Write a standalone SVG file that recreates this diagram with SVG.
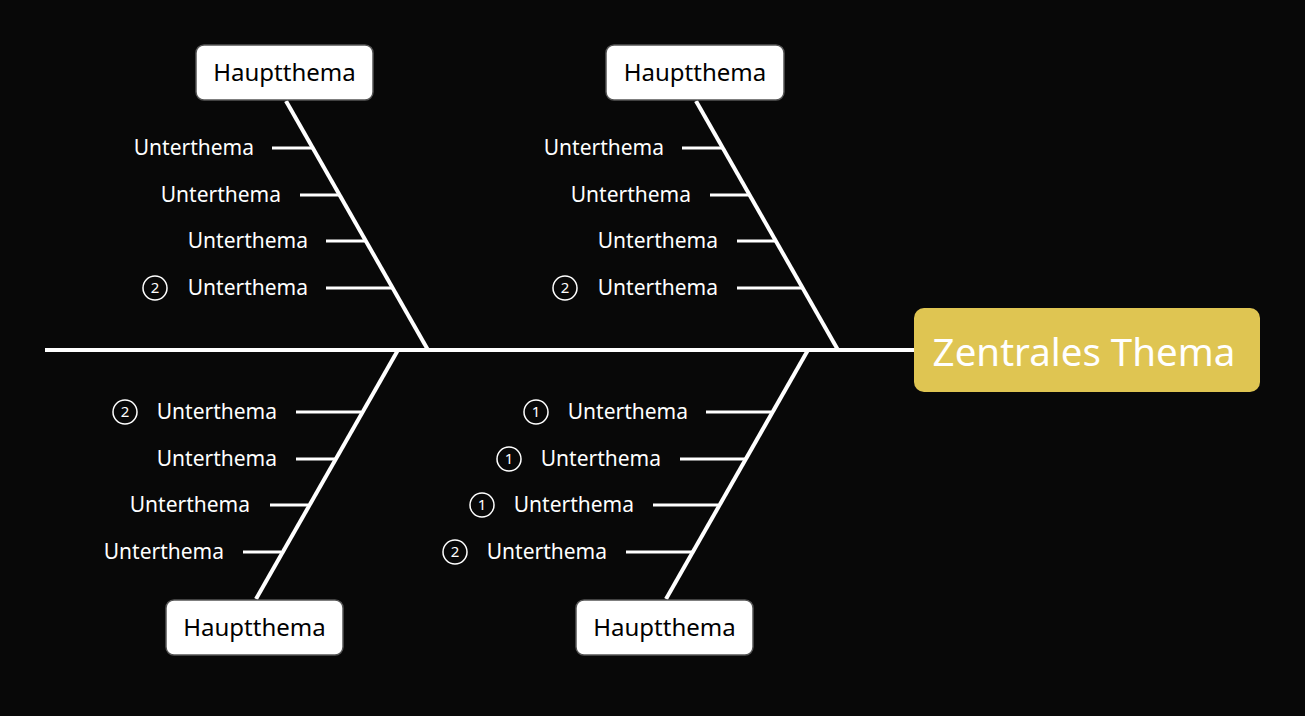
<svg xmlns="http://www.w3.org/2000/svg" width="1305" height="716" viewBox="0 0 1305 716">
<style>
.bone{stroke:#fff;stroke-width:4;fill:none;stroke-linecap:butt}
.sub{stroke:#fff;stroke-width:3;fill:none}
.main rect{fill:#fff;stroke:#555;stroke-width:1.5}
.main text{font-family:"Noto Sans","Open Sans",sans-serif;font-size:24px;fill:#000;text-anchor:middle}
.st{font-family:"Noto Sans","Open Sans",sans-serif;font-size:21px;fill:#fff;text-anchor:end}
.num circle{fill:none;stroke:#fff;stroke-width:1.5}
.num text{font-family:"Noto Sans",sans-serif;font-size:15px;fill:#fff;text-anchor:middle}
</style>
<rect width="1305" height="716" fill="#080808"/>
<g id="connectors">
<line class="bone" x1="45" y1="350" x2="914" y2="350"/>
<line class="bone" x1="286" y1="101" x2="428" y2="350"/>
<line class="bone" x1="696" y1="101" x2="838" y2="350"/>
<line class="bone" x1="398" y1="350" x2="256" y2="599"/>
<line class="bone" x1="808" y1="350" x2="666" y2="599"/>
<line class="sub" x1="272" y1="148" x2="313" y2="148"/>
<line class="sub" x1="300" y1="195" x2="340" y2="195"/>
<line class="sub" x1="326" y1="241" x2="366" y2="241"/>
<line class="sub" x1="326" y1="288" x2="392" y2="288"/>
<line class="sub" x1="682" y1="148" x2="723" y2="148"/>
<line class="sub" x1="710" y1="195" x2="750" y2="195"/>
<line class="sub" x1="737" y1="241" x2="776" y2="241"/>
<line class="sub" x1="737" y1="288" x2="803" y2="288"/>
<line class="sub" x1="296" y1="412" x2="361" y2="412"/>
<line class="sub" x1="296" y1="459" x2="335" y2="459"/>
<line class="sub" x1="270" y1="505" x2="308" y2="505"/>
<line class="sub" x1="243" y1="552" x2="281" y2="552"/>
<line class="sub" x1="706" y1="412" x2="771" y2="412"/>
<line class="sub" x1="680" y1="459" x2="745" y2="459"/>
<line class="sub" x1="653" y1="505" x2="718" y2="505"/>
<line class="sub" x1="626" y1="552" x2="692" y2="552"/>
</g>
<g id="center">
<rect x="914" y="308" width="346" height="84" rx="10" fill="#DFC552"/>
<text x="1084" y="366" font-family="Noto Sans,Open Sans,sans-serif" font-size="38.5" fill="#fff" text-anchor="middle">Zentrales Thema</text>
</g>
<g id="main1" class="main"><rect x="196" y="45" width="177" height="55" rx="8"/><text x="284.5" y="81">Hauptthema</text></g>
<g id="main2" class="main"><rect x="606" y="45" width="178" height="55" rx="8"/><text x="695" y="81">Hauptthema</text></g>
<g id="main3" class="main"><rect x="166" y="600" width="177" height="55" rx="8"/><text x="254.5" y="636">Hauptthema</text></g>
<g id="main4" class="main"><rect x="576" y="600" width="177" height="55" rx="8"/><text x="664.5" y="636">Hauptthema</text></g>
<g id="subs1">
<text class="st" x="254" y="155">Unterthema</text>
<text class="st" x="281" y="202">Unterthema</text>
<text class="st" x="308" y="248">Unterthema</text>
<text class="st" x="308" y="295">Unterthema</text>
<g class="num"><circle cx="155" cy="288" r="12"/><text x="155" y="293">2</text></g>
</g>
<g id="subs2">
<text class="st" x="664" y="155">Unterthema</text>
<text class="st" x="691" y="202">Unterthema</text>
<text class="st" x="718" y="248">Unterthema</text>
<text class="st" x="718" y="295">Unterthema</text>
<g class="num"><circle cx="565" cy="288" r="12"/><text x="565" y="293">2</text></g>
</g>
<g id="subs3">
<text class="st" x="277" y="419">Unterthema</text>
<text class="st" x="277" y="466">Unterthema</text>
<text class="st" x="250" y="512">Unterthema</text>
<text class="st" x="224" y="559">Unterthema</text>
<g class="num"><circle cx="125" cy="412" r="12"/><text x="125" y="417">2</text></g>
</g>
<g id="subs4">
<text class="st" x="688" y="419">Unterthema</text>
<text class="st" x="661" y="466">Unterthema</text>
<text class="st" x="634" y="512">Unterthema</text>
<text class="st" x="607" y="559">Unterthema</text>
<g class="num"><circle cx="536" cy="412" r="12"/><text x="536" y="417">1</text></g>
<g class="num"><circle cx="509" cy="459" r="12"/><text x="509" y="464">1</text></g>
<g class="num"><circle cx="482" cy="505" r="12"/><text x="482" y="510">1</text></g>
<g class="num"><circle cx="455" cy="552" r="12"/><text x="455" y="557">2</text></g>
</g>
</svg>
